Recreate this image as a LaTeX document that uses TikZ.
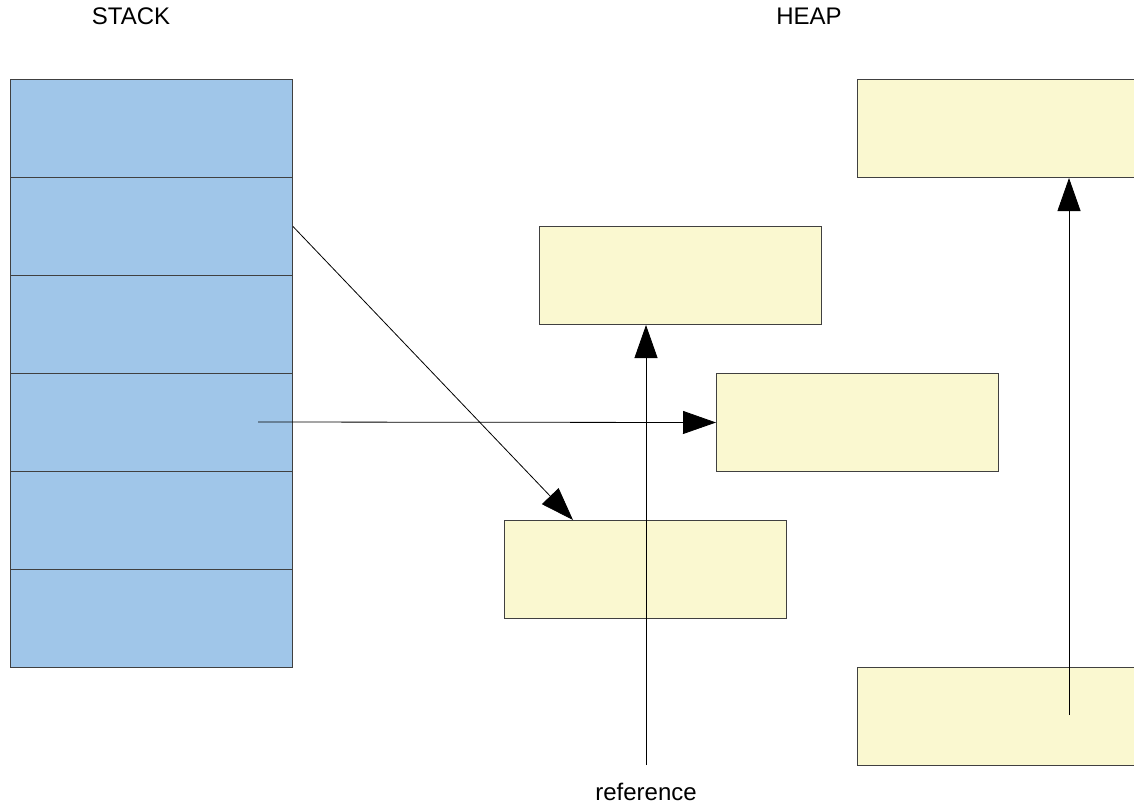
\documentclass[tikz,border=0pt]{standalone}
\usepackage{fontspec}
\setmainfont{Liberation Sans}
\usetikzlibrary{arrows.meta}

\definecolor{stackblue}{HTML}{A0C6E9}
\definecolor{heapyellow}{HTML}{FAF8D0}
\definecolor{edgegray}{HTML}{404040}

\tikzset{
  cell/.style={draw=edgegray, fill=stackblue, line width=1pt, minimum width=282pt, minimum height=98pt, inner sep=0pt, anchor=north west},
  obj/.style={draw=edgegray, fill=heapyellow, line width=1pt, minimum width=282pt, minimum height=98pt, inner sep=0pt, anchor=north west},
  title/.style={font=\fontsize{24}{28}\selectfont},
  ptr/.style={line width=0.8pt, -{Triangle[length=33pt, width=23pt]}}
}

\begin{document}
\begin{tikzpicture}[x=1pt, y=-1pt]
  \useasboundingbox (0,0) rectangle (1134,809);
  \clip (0,0) rectangle (1134,809);
  \fill[white] (0,0) rectangle (1134,809);

  \node[title] (stacklbl) at (131,16) {STACK};
  \node[title] (heaplbl) at (809,16) {HEAP};

  \foreach \i in {1,...,6}
    \node[cell] (s\i) at (10,{79+98*(\i-1)}) {};

  \node[obj] (objA) at (539,226) {};
  \node[obj] (objB) at (716,373) {};
  \node[obj] (objC) at (504,520) {};
  \node[obj] (objD) at (857,79) {};
  \node[obj] (objE) at (857,667) {};

  \node[title] (ref) at (646,792) {reference};
  \coordinate (refstart) at (646,765);
  \coordinate (s4ptr) at (258,422);
  \coordinate (eptr) at (1069,715);

  \draw[ptr] (s2.east) -- ([xshift=69pt]objC.north west);
  \draw[ptr] (s4ptr) -- (objB.west);
  \draw[ptr] (refstart) -- (refstart |- objA.south);
  \draw[ptr] (eptr) -- (eptr |- objD.south);
\end{tikzpicture}
\end{document}
